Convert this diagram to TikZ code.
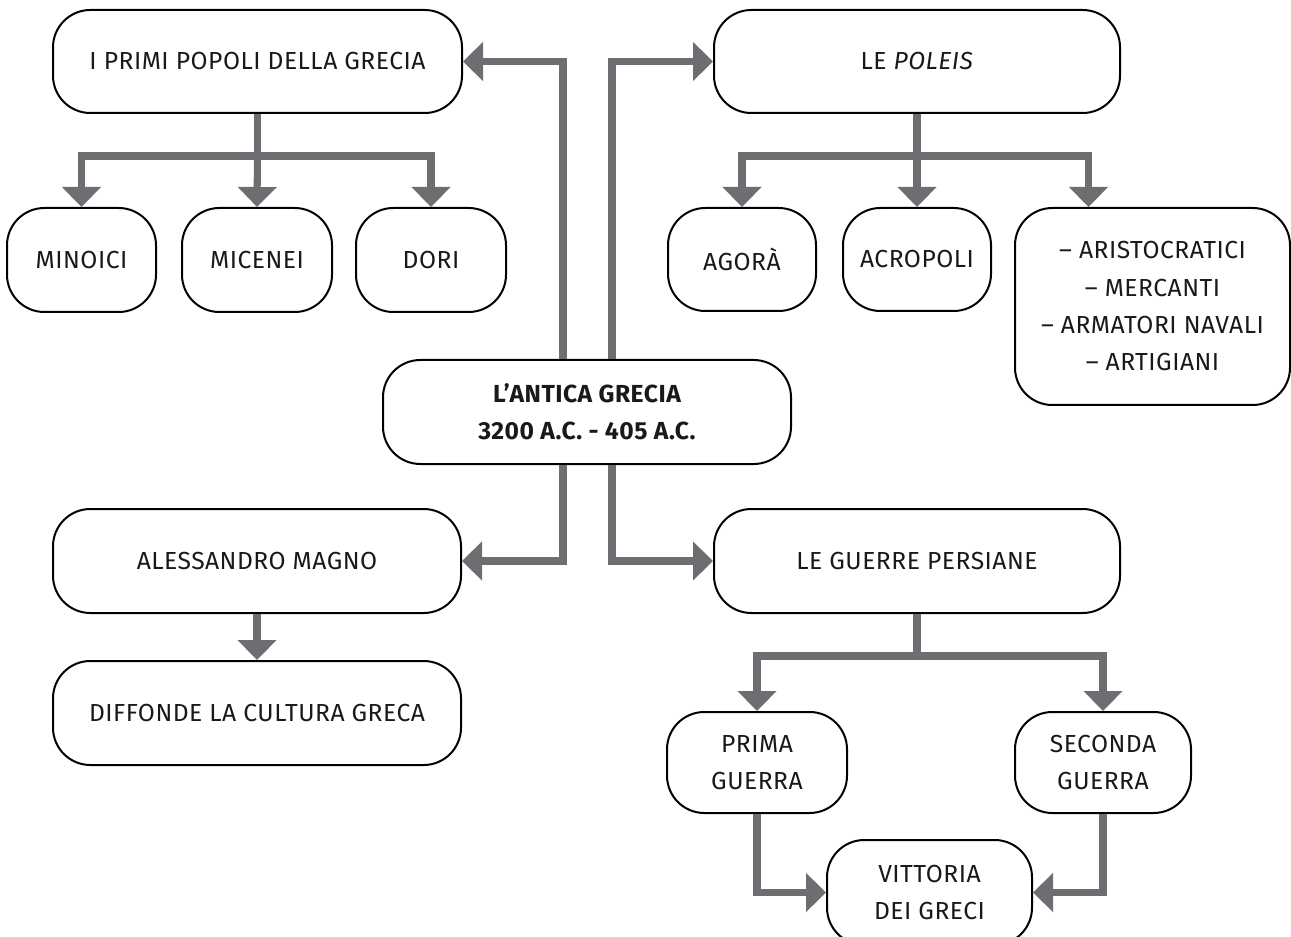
\documentclass[tikz,border=0pt]{standalone}
\usepackage{fontspec}
\setmainfont{Fira Sans}[LetterSpace=2]
\usetikzlibrary{arrows.meta,calc}
\definecolor{arrgray}{HTML}{6D6E71}
\tikzset{
  box/.style={draw=black, line width=1.5pt, rounded corners=28pt, align=center,
    inner sep=0pt, font=\fontsize{18.5}{28}\selectfont, text=black!90},
  arr/.style={draw=arrgray, line width=5.3pt,
    -{Triangle[width=28.5pt,length=15pt]}, arrgray},
}
\begin{document}
\begin{tikzpicture}[x=0.75pt,y=-0.75pt]
\useasboundingbox (0,0) rectangle (1291,937);
% nodes
\node[box, minimum width=306.75pt, minimum height=77.25pt] (P) at (257.5,61.5) {I PRIMI POPOLI DELLA GRECIA};
\node[box, minimum width=111.75pt, minimum height=78pt] (B1) at (81.5,260) {MINOICI};
\node[box, minimum width=112.5pt, minimum height=78pt] (B2) at (257,260) {MICENEI};
\node[box, minimum width=112.5pt, minimum height=78pt] (B3) at (431,260) {DORI};
\node[box, minimum width=304.5pt, minimum height=77.25pt] (Q) at (917,61.5) {LE \textit{POLEIS}};
\node[box, minimum width=111pt, minimum height=77.25pt] (A1) at (742,259.5) {AGORÀ};
\node[box, minimum width=111pt, minimum height=77.25pt] (A2) at (917,259.5) {ACROPOLI};
\node[box, minimum width=206.25pt, minimum height=147.75pt] (A3) at (1152.5,306.5) {– ARISTOCRATICI\\– MERCANTI\\– ARMATORI NAVALI\\– ARTIGIANI};
\node[box, minimum width=306pt, minimum height=78pt, font=\fontsize{18.5}{28}\selectfont\bfseries] (C) at (587,412) {L’ANTICA GRECIA\\3200 A.C. - 405 A.C.};
\node[box, minimum width=306pt, minimum height=78pt] (M) at (257,561) {ALESSANDRO MAGNO};
\node[box, minimum width=306pt, minimum height=78pt] (D) at (257,713) {DIFFONDE LA CULTURA GRECA};
\node[box, minimum width=304.5pt, minimum height=78pt] (G) at (917,561) {LE GUERRE PERSIANE};
\node[box, minimum width=135pt, minimum height=75.75pt] (G1) at (757,762.5) {PRIMA\\GUERRA};
\node[box, minimum width=132pt, minimum height=75.75pt] (G2) at (1103,762.5) {SECONDA\\GUERRA};
\node[box, minimum width=153.75pt, minimum height=78.75pt] (V) at (929.5,892.5) {VITTORIA\\DEI GRECI};
% connectors
\draw[arr] ($(C.north)+(-24,0)$) |- (P.east);
\draw[arr] ($(C.north)+(25,0)$) |- (Q.west);
\draw[arr] ($(C.south)+(-24,0)$) |- (M.east);
\draw[arr] ($(C.south)+(25,0)$) |- (G.west);
\coordinate (pj) at ($(P.south)+(0,42)$);
\draw[arr] (P.south) -- (pj) -| (B1.north);
\draw[arr] (pj) -| (B3.north);
\draw[arr] (pj) -- (B2.north);
\coordinate (qj) at ($(Q.south)+(0,42)$);
\draw[arr] (Q.south) -- (qj) -| (A1.north);
\draw[arr] (qj) -| ([xshift=-48pt]A3.north);
\draw[arr] (qj) -- (A2.north);
\draw[arr] (M.south) -- (D.north);
\coordinate (gj) at ($(G.south)+(0,42)$);
\draw[arr] (G.south) -- (gj) -| (G1.north);
\draw[arr] (gj) -| (G2.north);
\draw[arr] (G1.south) |- (V.west);
\draw[arr] (G2.south) |- (V.east);
\end{tikzpicture}
\end{document}
